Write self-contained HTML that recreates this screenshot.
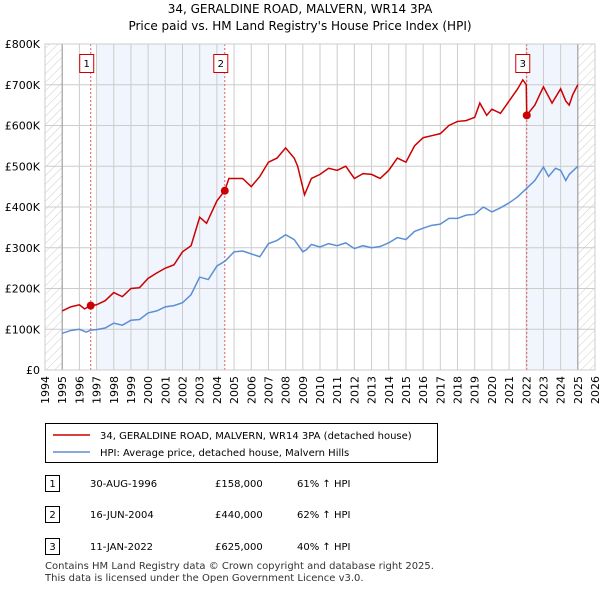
<!DOCTYPE html>
<html><head><meta charset="utf-8"><style>
body{margin:0;background:#fff;font-family:"Liberation Sans","DejaVu Sans",sans-serif;}
svg text{font-family:"DejaVu Sans","Liberation Sans",sans-serif;}
</style></head><body>
<svg width="600" height="590" viewBox="0 0 600 590">
<defs><pattern id="hatch" width="6" height="6" patternUnits="userSpaceOnUse" patternTransform="rotate(45)"><line x1="0" y1="0" x2="0" y2="6" stroke="#ccc" stroke-width="1"/></pattern></defs>
<text x="300" y="13" text-anchor="middle" font-size="12">34, GERALDINE ROAD, MALVERN, WR14 3PA</text>
<text x="300" y="30" text-anchor="middle" font-size="12">Price paid vs. HM Land Registry's House Price Index (HPI)</text>
<g id="plot"></g>
<g>
<rect x="45.5" y="423.5" width="392" height="39" fill="#fff" stroke="#000"/>
<line x1="53" y1="435" x2="90" y2="435" stroke="#cc0000" stroke-width="1.5"/>
<text x="100" y="439" font-size="10">34, GERALDINE ROAD, MALVERN, WR14 3PA (detached house)</text>
<line x1="53" y1="452" x2="90" y2="452" stroke="#5b8fd4" stroke-width="1.5"/>
<text x="100" y="456" font-size="10">HPI: Average price, detached house, Malvern Hills</text>
</g>
<g font-size="10">
<rect x="45.5" y="475.5" width="14" height="16" fill="#fff" stroke="#000"/><text x="52.5" y="487" text-anchor="middle">1</text>
<text x="90" y="487">30-AUG-1996</text><text x="215" y="487">£158,000</text><text x="297" y="487">61% ↑ HPI</text>
<rect x="45.5" y="506.5" width="14" height="16" fill="#fff" stroke="#000"/><text x="52.5" y="518" text-anchor="middle">2</text>
<text x="90" y="518">16-JUN-2004</text><text x="215" y="518">£440,000</text><text x="297" y="518">62% ↑ HPI</text>
<rect x="45.5" y="538.5" width="14" height="16" fill="#fff" stroke="#000"/><text x="52.5" y="550" text-anchor="middle">3</text>
<text x="90" y="550">11-JAN-2022</text><text x="215" y="550">£625,000</text><text x="297" y="550">40% ↑ HPI</text>
</g>
<text x="45" y="569" font-size="10" fill="#333">Contains HM Land Registry data © Crown copyright and database right 2025.</text>
<text x="45" y="581" font-size="10" fill="#333">This data is licensed under the Open Government Licence v3.0.</text>
</svg>
<script>
const hpiYears=[1995,1995.5,1996,1996.4,1996.66,1997,1997.5,1998,1998.5,1999,1999.5,2000,2000.5,2001,2001.5,2002,2002.5,2003,2003.5,2004,2004.5,2005,2005.5,2006,2006.5,2007,2007.5,2008,2008.5,2009,2009.2,2009.5,2010,2010.5,2011,2011.5,2012,2012.5,2013,2013.5,2014,2014.5,2015,2015.5,2016,2016.5,2017,2017.5,2018,2018.5,2019,2019.5,2020,2020.5,2021,2021.5,2022,2022.5,2023,2023.3,2023.7,2024,2024.3,2024.5,2025];
const hpiValues=[90,97,100,93,98,99,103,115,110,122,124,140,145,155,158,165,185,228,222,255,268,290,292,285,278,310,318,332,320,290,295,308,302,310,305,312,298,305,300,303,312,325,320,340,348,355,358,372,372,380,382,400,388,398,410,425,445,465,498,475,495,490,465,480,500];
const propYears=[1995,1995.5,1996,1996.3,1996.66,1997,1997.5,1998,1998.5,1999,1999.5,2000,2000.5,2001,2001.5,2002,2002.5,2003,2003.4,2004,2004.46,2004.7,2005.5,2006,2006.5,2007,2007.5,2008,2008.5,2008.7,2009.1,2009.5,2010,2010.5,2011,2011.5,2012,2012.5,2013,2013.5,2014,2014.5,2015,2015.5,2016,2016.5,2017,2017.5,2018,2018.5,2019,2019.3,2019.7,2020,2020.5,2021,2021.5,2021.8,2022.0,2022.03,2022.5,2023,2023.5,2024,2024.3,2024.5,2024.7,2025];
const propValues=[145,155,160,150,158,160,170,190,180,200,202,225,238,250,258,290,305,375,360,415,440,470,470,450,475,510,520,545,520,500,430,470,480,495,490,500,470,482,480,470,490,520,510,550,570,575,580,600,610,612,620,655,625,640,630,660,690,712,700,625,650,695,655,690,660,650,675,700];
const sales=[{n:"1",year:1996.66,price:158},{n:"2",year:2004.46,price:440},{n:"3",year:2022.03,price:625}];
const xTicks=[1994,1995,1996,1997,1998,1999,2000,2001,2002,2003,2004,2005,2006,2007,2008,2009,2010,2011,2012,2013,2014,2015,2016,2017,2018,2019,2020,2021,2022,2023,2024,2025,2026];
const yTicks=[0,100,200,300,400,500,600,700,800];
const yLabels=["£0","£100K","£200K","£300K","£400K","£500K","£600K","£700K","£800K"];

const NS="http://www.w3.org/2000/svg";
const L=45,R=595,T=44,B=370;
const x=v=>L+(v-1994)/32*(R-L);
const y=v=>B-v/800*(B-T);
const g=document.getElementById('plot');
function mk(tag,attrs,parent){const e=document.createElementNS(NS,tag);for(const k in attrs)e.setAttribute(k,attrs[k]);(parent||g).appendChild(e);return e;}
let e;
e=mk('rect',{x:x(1994),y:T,width:x(1995)-x(1994),height:B-T,fill:'url(#hatch)'});


e=mk('rect',{x:x(2025),y:T,width:x(2026)-x(2025),height:B-T,fill:'url(#hatch)'});


e=mk('rect',{x:x(1997),y:T,width:x(sales[1].year)-x(1997),height:B-T,fill:'#eef3fc',opacity:0.8});


e=mk('rect',{x:x(sales[2].year),y:T,width:x(2025)-x(sales[2].year),height:B-T,fill:'#eef3fc',opacity:0.8});


xTicks.forEach(t=>{
 e=mk('line',{x1:x(t),x2:x(t),y1:T,y2:B,stroke:'#ccc'});
 
 
 e=mk('text',{x:0,y:0,'font-size':11,'text-anchor':'end',transform:`translate(${x(t)+4},${B+6}) rotate(-90)`});
 e.textContent=t;
 
 
});
yTicks.forEach((t,i)=>{
 e=mk('line',{x1:L,x2:R,y1:y(t),y2:y(t),stroke:'#ccc'});
 
 
 e=mk('text',{x:L-5,y:y(t)+4,'font-size':11,'text-anchor':'end'});
 e.textContent=yLabels[i];
 
 
});
e=mk('line',{x1:x(1995),x2:x(1995),y1:T,y2:B,stroke:'#999'});


e=mk('line',{x1:x(2025),x2:x(2025),y1:T,y2:B,stroke:'#999'});


sales.forEach(s=>{
 e=mk('line',{x1:x(s.year),x2:x(s.year),y1:T,y2:B,stroke:'#e06060','stroke-dasharray':'2,2'});
 
 
});
e=mk('polyline',{points:hpiYears.map((v,i)=>x(v)+','+y(hpiValues[i])).join(' '),fill:'none',stroke:'#5b8fd4','stroke-width':1.5});


e=mk('polyline',{points:propYears.map((v,i)=>x(v)+','+y(propValues[i])).join(' '),fill:'none',stroke:'#cc0000','stroke-width':1.5});


sales.forEach(s=>{
 e=mk('circle',{cx:x(s.year),cy:y(s.price),r:4,fill:'#cc0000'});
 
 
 e=mk('rect',{x:x(s.year)-11,y:54.5,width:14,height:18,fill:'#fff',stroke:'#cc0000'});
 
 
 e=mk('text',{x:x(s.year)-4,y:67,'font-size':10,'text-anchor':'middle'});
 e.textContent=s.n;
 
 
});
e=mk('rect',{x:L,y:T,width:R-L,height:B-T,fill:'none',stroke:'#ccc'});


</script>
</body></html>
